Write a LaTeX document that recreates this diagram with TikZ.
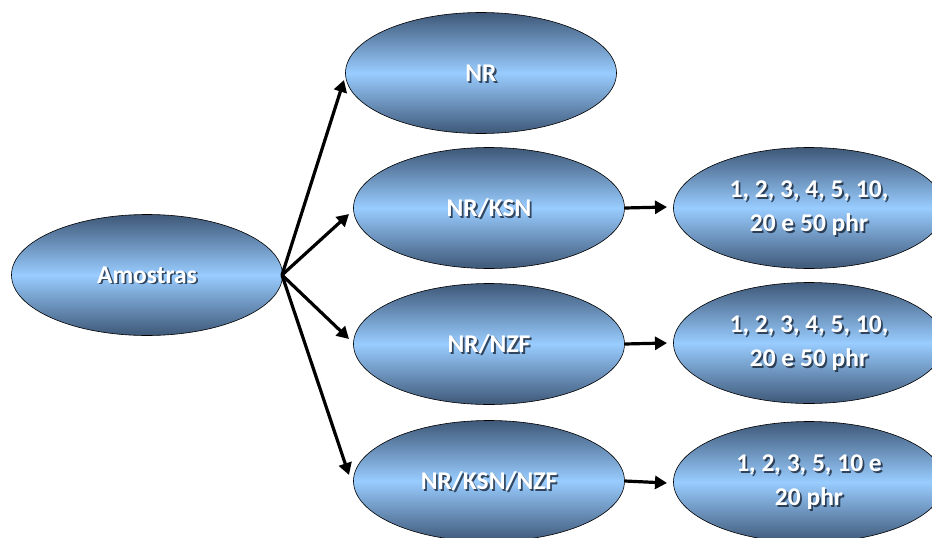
\documentclass[tikz,border=0pt]{standalone}
\usepackage{fontspec}
\setmainfont{Carlito}
\usetikzlibrary{arrows.meta,shapes.geometric}
\definecolor{blobdark}{RGB}{62,88,120}
\definecolor{bloblight}{RGB}{153,204,255}
\definecolor{shadowcol}{RGB}{20,30,45}
\tikzset{
  blob/.style={ellipse, draw=black, line width=0.6pt, minimum width=271pt, minimum height=121pt,
    inner sep=0pt, top color=blobdark, bottom color=blobdark, middle color=bloblight},
  blobtext/.style={text=white, font=\bfseries\fontsize{25.5}{34}\selectfont, align=center, inner sep=0pt},
  blobshadow/.style={blobtext, text=shadowcol, opacity=0.75},
  conn/.style={line width=3.2pt, -{Triangle[length=12pt,width=13pt]}}
}
\newcommand\myblob[3]{%
  \node[blob] (#1) at #2 {};
  \node[blobshadow] at ([shift={(1.8pt,-1.8pt)}]#1.center) {#3};
  \node[blobtext] (#1-t) at (#1.center) {#3};
}
\begin{document}
\begin{tikzpicture}[x=1pt,y=-1pt]
\useasboundingbox (0,0) rectangle (932,538);
\clip (0,0) rectangle (932,538);
\myblob{am}{(147,275)}{Amostras}
\myblob{nr}{(481,73)}{NR}
\myblob{ksn}{(489,208)}{NR/KSN}
\myblob{nzf}{(489,344)}{NR/NZF}
\myblob{kn}{(489,481)}{NR/KSN/NZF}
\myblob{r1}{(809,208)}{1, 2, 3, 4, 5, 10,\\20 e 50 phr}
\myblob{r2}{(809,343)}{1, 2, 3, 4, 5, 10,\\20 e 50 phr}
\myblob{r3}{(809,482)}{1, 2, 3, 5, 10 e\\20 phr}
\coordinate (t1) at (344,80);
\coordinate (t2) at (349,214);
\coordinate (t3) at (349,339);
\coordinate (t4) at (349,475);
\coordinate (s) at (282,275);
\draw[conn] (s) -- (t1);
\draw[conn] (s) -- (t2);
\draw[conn] (s) -- (t3);
\draw[conn] (s) -- (t4);
\coordinate (u1) at (667,207);
\coordinate (u2) at (667,343);
\coordinate (u3) at (667,483);
\draw[conn] (ksn.east) -- (u1);
\draw[conn] (nzf.east) -- (u2);
\draw[conn] (kn.east) -- (u3);
\end{tikzpicture}
\end{document}
